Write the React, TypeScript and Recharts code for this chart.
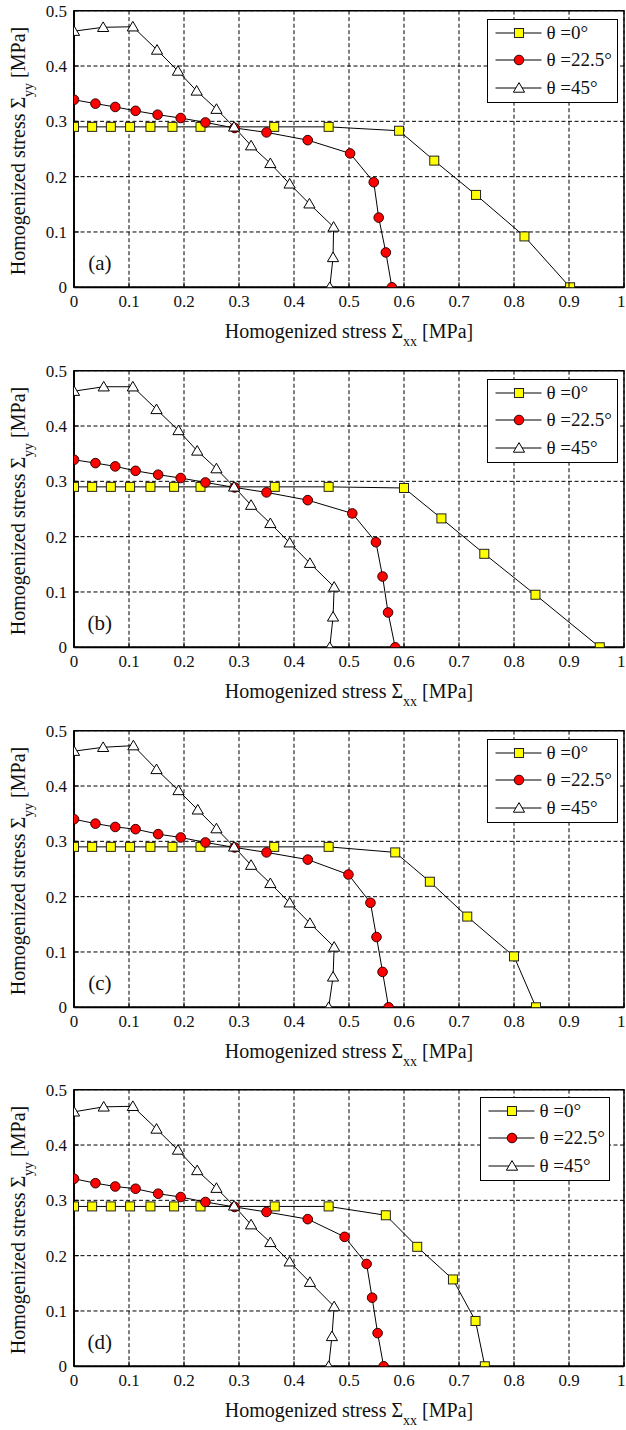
import React from 'react';
import {
  ScatterChart,
  Scatter,
  XAxis,
  YAxis,
  CartesianGrid,
  ReferenceArea,
  ReferenceDot,
  Legend,
} from 'recharts';

const FONT = "'Liberation Serif', 'Times New Roman', Times, serif";

const xTicks = [0, 0.1, 0.2, 0.3, 0.4, 0.5, 0.6, 0.7, 0.8, 0.9, 1];
const yTicks = [0, 0.1, 0.2, 0.3, 0.4, 0.5];
const seriesNames = ['θ =0°', 'θ =22.5°', 'θ =45°'];
const panelLabels = ['(a)', '(b)', '(c)', '(d)'];

// Panel (a)
const squaresA = [[0, 0.29], [0.033, 0.29], [0.067, 0.29], [0.102, 0.29], [0.139, 0.29], [0.179, 0.29], [0.23, 0.29], [0.364, 0.29], [0.463, 0.29], [0.591, 0.283], [0.655, 0.229], [0.731, 0.167], [0.819, 0.092], [0.902, 0]];
const circlesA = [[0, 0.339], [0.039, 0.332], [0.075, 0.326], [0.112, 0.319], [0.152, 0.312], [0.194, 0.306], [0.239, 0.298], [0.292, 0.288], [0.35, 0.28], [0.425, 0.266], [0.502, 0.242], [0.545, 0.19], [0.554, 0.126], [0.567, 0.063], [0.578, 0]];
const trianglesA = [[0, 0.463], [0.053, 0.47], [0.107, 0.471], [0.151, 0.429], [0.189, 0.391], [0.223, 0.355], [0.259, 0.322], [0.291, 0.29], [0.322, 0.256], [0.357, 0.224], [0.392, 0.187], [0.428, 0.151], [0.472, 0.109], [0.471, 0.054], [0.465, 0]];

// Panel (b)
const squaresB = [[0, 0.29], [0.033, 0.29], [0.067, 0.29], [0.102, 0.29], [0.139, 0.29], [0.182, 0.29], [0.23, 0.29], [0.365, 0.29], [0.463, 0.29], [0.6, 0.288], [0.668, 0.233], [0.746, 0.169], [0.839, 0.095], [0.956, 0]];
const circlesB = [[0, 0.339], [0.039, 0.333], [0.075, 0.327], [0.112, 0.319], [0.153, 0.312], [0.194, 0.306], [0.239, 0.298], [0.292, 0.289], [0.35, 0.28], [0.425, 0.266], [0.506, 0.242], [0.549, 0.19], [0.561, 0.128], [0.571, 0.063], [0.584, 0]];
const trianglesB = [[0, 0.463], [0.054, 0.471], [0.107, 0.471], [0.15, 0.43], [0.19, 0.392], [0.224, 0.355], [0.259, 0.323], [0.291, 0.29], [0.322, 0.257], [0.357, 0.224], [0.392, 0.189], [0.429, 0.152], [0.473, 0.109], [0.471, 0.055], [0.465, 0]];

// Panel (c)
const squaresC = [[0, 0.29], [0.033, 0.29], [0.067, 0.29], [0.102, 0.29], [0.139, 0.29], [0.179, 0.29], [0.23, 0.29], [0.364, 0.29], [0.463, 0.29], [0.584, 0.28], [0.647, 0.227], [0.715, 0.164], [0.8, 0.092], [0.84, 0]];
const circlesC = [[0, 0.34], [0.039, 0.332], [0.075, 0.326], [0.112, 0.322], [0.153, 0.313], [0.194, 0.307], [0.239, 0.298], [0.292, 0.289], [0.35, 0.28], [0.425, 0.267], [0.499, 0.24], [0.539, 0.189], [0.55, 0.127], [0.561, 0.064], [0.572, 0]];
const trianglesC = [[0, 0.463], [0.053, 0.47], [0.108, 0.473], [0.15, 0.43], [0.19, 0.392], [0.225, 0.357], [0.259, 0.323], [0.291, 0.29], [0.322, 0.257], [0.357, 0.224], [0.392, 0.189], [0.429, 0.152], [0.473, 0.109], [0.471, 0.055], [0.463, 0]];

// Panel (d)
const squaresD = [[0, 0.289], [0.033, 0.289], [0.067, 0.289], [0.102, 0.289], [0.139, 0.289], [0.182, 0.289], [0.23, 0.289], [0.365, 0.289], [0.463, 0.289], [0.567, 0.273], [0.624, 0.216], [0.689, 0.157], [0.73, 0.082], [0.747, 0]];
const circlesD = [[0, 0.339], [0.039, 0.331], [0.075, 0.325], [0.112, 0.321], [0.153, 0.312], [0.194, 0.306], [0.239, 0.297], [0.292, 0.288], [0.35, 0.279], [0.425, 0.266], [0.492, 0.234], [0.532, 0.185], [0.542, 0.124], [0.552, 0.06], [0.563, 0]];
const trianglesD = [[0, 0.46], [0.054, 0.469], [0.107, 0.47], [0.15, 0.429], [0.189, 0.391], [0.224, 0.354], [0.259, 0.322], [0.291, 0.29], [0.322, 0.256], [0.357, 0.224], [0.392, 0.189], [0.429, 0.152], [0.473, 0.108], [0.469, 0.054], [0.463, 0]];

const toPts = (arr: number[][]) => arr.map(([x, y]) => ({ x, y }));

const panels = [
  { label: panelLabels[0], series: [squaresA, circlesA, trianglesA], top: 0, legend: { left: 487, top: 19, width: 131 } },
  { label: panelLabels[1], series: [squaresB, circlesB, trianglesB], top: 360, legend: { left: 487, top: 19, width: 131 } },
  { label: panelLabels[2], series: [squaresC, circlesC, trianglesC], top: 720, legend: { left: 487, top: 19, width: 131 } },
  { label: panelLabels[3], series: [squaresD, circlesD, trianglesD], top: 1079.3, legend: { left: 480, top: 18, width: 130 } },
];

const kinds = ['square', 'circle', 'triangle'];

function marker(kind: string, cx: number, cy: number) {
  if (kind === 'square') {
    return <rect x={cx - 4.5} y={cy - 4.5} width={9} height={9} fill="#ffff00" stroke="#222" strokeWidth={1} />;
  }
  if (kind === 'circle') {
    return <circle cx={cx} cy={cy} r={4.8} fill="#ff0000" stroke="#300" strokeWidth={1} />;
  }
  return (
    <polygon
      points={`${cx},${cy - 5.4} ${cx - 5.6},${cy + 4.2} ${cx + 5.6},${cy + 4.2}`}
      fill="#ffffff"
      stroke="#000"
      strokeWidth={1}
    />
  );
}

const XTick = (p: any) => {
  const { x, y, payload } = p;
  const axisY = y - 8;
  const isLast = payload.value === xTicks[xTicks.length - 1];
  return (
    <g>
      <line x1={x} x2={x} y1={axisY} y2={axisY - 5} stroke="#000" strokeWidth={1} />
      <text
        x={isLast ? x + 1.5 : x}
        y={axisY + 20}
        textAnchor={isLast ? 'end' : 'middle'}
        fontSize={17}
        fontFamily={FONT}
        fill="#111"
      >
        {String(payload.value)}
      </text>
    </g>
  );
};

const YTick = (p: any) => {
  const { x, y, payload } = p;
  const axisX = x + 8;
  return (
    <g>
      <line x1={axisX} x2={axisX + 5} y1={y} y2={y} stroke="#000" strokeWidth={1} />
      <text x={axisX - 7} y={y} dy={6} textAnchor="end" fontSize={17} fontFamily={FONT} fill="#111">
        {String(payload.value)}
      </text>
    </g>
  );
};

const XLabel = (props: any) => {
  const vb = props.viewBox || {};
  const cx = vb.x + vb.width / 2;
  const by = vb.y + 51;
  return (
    <text x={cx} y={by} textAnchor="middle" fontSize={20} fontFamily={FONT} fill="#111">
      Homogenized stress Σ
      <tspan dy={8} fontSize={14}>xx</tspan>
      <tspan dy={-8}> [MPa]</tspan>
    </text>
  );
};

const YLabel = (props: any) => {
  const vb = props.viewBox || {};
  const cx = vb.x + 25;
  const cy = vb.y + vb.height / 2 + 2;
  return (
    <text
      x={cx}
      y={cy}
      transform={`rotate(-90, ${cx}, ${cy})`}
      textAnchor="middle"
      fontSize={20}
      fontFamily={FONT}
      fill="#111"
    >
      Homogenized stress Σ
      <tspan dy={8} fontSize={14}>yy</tspan>
      <tspan dy={-8}> [MPa]</tspan>
    </text>
  );
};

const LegendBox = ({ width }: { width: number }) => (
  <div
    style={{
      width,
      height: 84,
      border: '1.5px solid #000',
      background: '#fff',
      boxSizing: 'border-box',
      position: 'relative',
      fontFamily: FONT,
      fontSize: 19,
      color: '#111',
    }}
  >
    {seriesNames.map((n, i) => (
      <div
        key={n}
        style={{
          position: 'absolute',
          left: 0,
          top: 0.5 + i * 27.5,
          height: 24,
          display: 'flex',
          alignItems: 'center',
          whiteSpace: 'nowrap',
        }}
      >
        <svg width={58.5} height={24} style={{ display: 'block' }}>
          <line x1={7.5} x2={53.5} y1={12} y2={12} stroke="#000" strokeWidth={1} />
          {marker(kinds[i], 31, 12)}
        </svg>
        <span style={{ lineHeight: '24px', fontFamily: FONT }}>{n}</span>
      </div>
    ))}
  </div>
);

const CHART_H = 351;

const Panel = ({ cfg }: { cfg: (typeof panels)[number] }) => (
  <div style={{ position: 'absolute', left: 0, top: cfg.top, width: 626, height: CHART_H }}>
    <ScatterChart width={626} height={CHART_H} margin={{ top: 10.7, right: 2, bottom: 0, left: 0 }}>
      <CartesianGrid stroke="#000" strokeDasharray="4 2.5" strokeWidth={1} />
      <XAxis
        type="number"
        dataKey="x"
        domain={[0, 1]}
        ticks={xTicks}
        interval={0}
        height={CHART_H - 10.7 - 276.6}
        axisLine={{ stroke: '#000', strokeWidth: 1.8 }}
        tickLine={false}
        tickSize={5}
        tickMargin={3}
        tick={<XTick />}
        label={{ content: <XLabel /> } as any}
        allowDataOverflow
      />
      <YAxis
        type="number"
        dataKey="y"
        domain={[0, 0.5]}
        ticks={yTicks}
        interval={0}
        width={74}
        axisLine={{ stroke: '#000', strokeWidth: 1.8 }}
        tickLine={false}
        tickSize={5}
        tickMargin={3}
        tick={<YTick />}
        label={{ content: <YLabel /> } as any}
        allowDataOverflow
      />
      <ReferenceArea
        x1={0}
        x2={1}
        y1={0}
        y2={0.5}
        fill="none"
        fillOpacity={0}
        stroke="#000"
        strokeWidth={1.4}
        ifOverflow="visible"
      />
      {cfg.series.map((s, i) => (
        <Scatter
          key={seriesNames[i]}
          name={seriesNames[i]}
          data={toPts(s)}
          isAnimationActive={false}
          line={{ stroke: '#000', strokeWidth: 1 }}
          shape={(p: any) => marker(kinds[i], p.cx, p.cy)}
        />
      ))}
      <ReferenceDot
        x={0.047}
        y={0.044}
        r={0}
        fill="none"
        stroke="none"
        ifOverflow="visible"
        label={{ value: cfg.label, position: 'center', fontSize: 21, fontFamily: FONT, fill: '#111' }}
      />
      <Legend
        layout="vertical"
        align="center"
        verticalAlign="middle"
        wrapperStyle={{ left: cfg.legend.left, top: cfg.legend.top, width: cfg.legend.width }}
        content={() => <LegendBox width={cfg.legend.width} />}
      />
    </ScatterChart>
  </div>
);

export default function App() {
  return (
    <div style={{ position: 'absolute', left: 0, top: 0, width: 626, height: 1430, background: '#fff' }}>
      {panels.map((cfg) => (
        <Panel key={cfg.label} cfg={cfg} />
      ))}
    </div>
  );
}
